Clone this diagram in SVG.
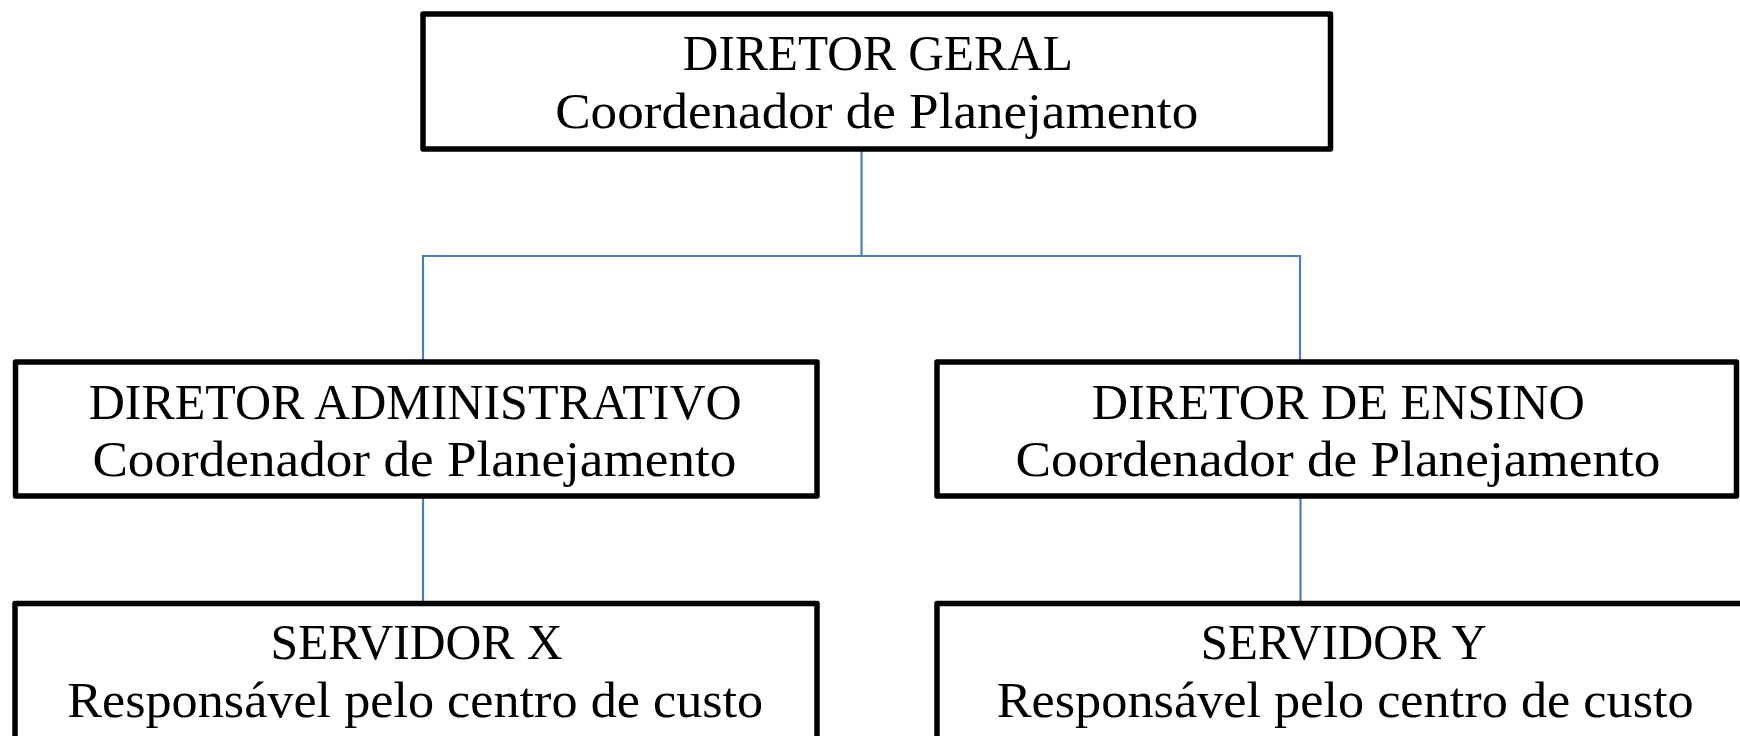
<svg xmlns="http://www.w3.org/2000/svg" width="1740" height="736" viewBox="0 0 1740 736">
<style>
.box{fill:#ffffff;stroke:#000000;stroke-width:5.5;stroke-linejoin:round}
.t{font-family:"Liberation Serif","Times New Roman",serif;font-size:50px;fill:#000000;text-anchor:middle}
.c{fill:none;stroke:#4a7ebb;stroke-width:2.2}
</style>
<rect width="1740" height="736" fill="#ffffff"/>
<g id="connectors">
<line class="c" x1="861.5" y1="151" x2="861.5" y2="256"/>
<polyline class="c" points="423,360 423,256 1300,256 1300,360"/>
<line class="c" x1="423" y1="498" x2="423" y2="602"/>
<line class="c" x1="1300.5" y1="498" x2="1300.5" y2="602"/>
</g>
<g id="node-diretor-geral">
<rect class="box" x="423" y="14" width="907.5" height="135"/>
<text class="t" x="877.8" y="70" textLength="390" lengthAdjust="spacingAndGlyphs">DIRETOR GERAL</text>
<text class="t" x="876.7" y="128" textLength="643" lengthAdjust="spacingAndGlyphs">Coordenador de Planejamento</text>
</g>
<g id="node-diretor-administrativo">
<rect class="box" x="15.5" y="362" width="801.5" height="134"/>
<text class="t" x="415.2" y="418.5" textLength="653" lengthAdjust="spacingAndGlyphs">DIRETOR ADMINISTRATIVO</text>
<text class="t" x="414.4" y="475.5" textLength="644" lengthAdjust="spacingAndGlyphs">Coordenador de Planejamento</text>
</g>
<g id="node-diretor-ensino">
<rect class="box" x="937" y="362" width="799.5" height="134"/>
<text class="t" x="1338.2" y="418.5" textLength="493" lengthAdjust="spacingAndGlyphs">DIRETOR DE ENSINO</text>
<text class="t" x="1338" y="475.5" textLength="645" lengthAdjust="spacingAndGlyphs">Coordenador de Planejamento</text>
</g>
<g id="node-servidor-x">
<rect class="box" x="15" y="603.5" width="802" height="160"/>
<text class="t" x="416.5" y="658.5" textLength="292" lengthAdjust="spacingAndGlyphs">SERVIDOR X</text>
<text class="t" x="415.2" y="716.5" textLength="696" lengthAdjust="spacingAndGlyphs">Responsável pelo centro de custo</text>
</g>
<g id="node-servidor-y">
<rect class="box" x="937" y="603.5" width="830" height="160"/>
<text class="t" x="1343.8" y="658.5" textLength="286" lengthAdjust="spacingAndGlyphs">SERVIDOR Y</text>
<text class="t" x="1345.2" y="716.5" textLength="697" lengthAdjust="spacingAndGlyphs">Responsável pelo centro de custo</text>
</g>
</svg>
